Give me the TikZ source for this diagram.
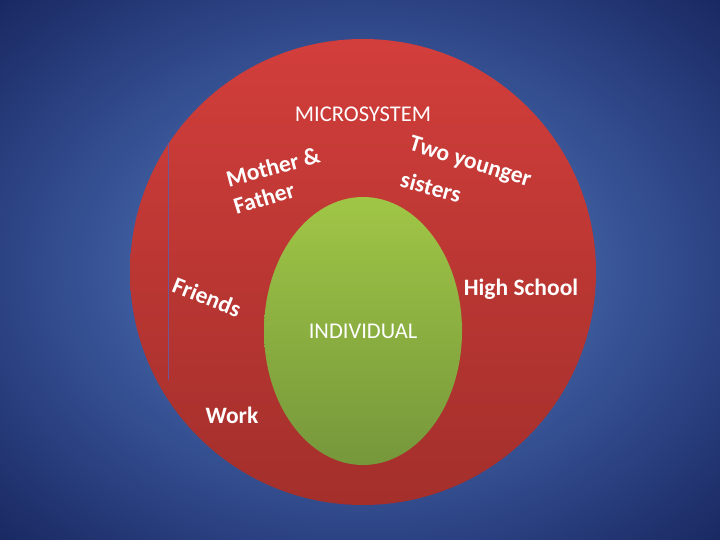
\documentclass[tikz,border=0pt]{standalone}
\usepackage{fontspec}
\setmainfont{Carlito}
\usetikzlibrary{shapes.geometric}

\definecolor{redtop}{RGB}{210,62,59}
\definecolor{redbot}{RGB}{163,47,43}
\definecolor{greentop}{RGB}{160,198,70}
\definecolor{greenbot}{RGB}{118,151,59}
\definecolor{bgin}{RGB}{74,108,172}
\definecolor{bgmid}{RGB}{60,90,156}
\definecolor{bgedge}{RGB}{42,64,128}
\definecolor{bgout}{RGB}{24,39,96}
\definecolor{divline}{RGB}{112,86,150}

\pgfdeclareradialshading{bgshade}{\pgfpoint{0bp}{0bp}}{%
  color(0bp)=(bgin); color(16bp)=(bgmid); color(26bp)=(bgedge); color(36bp)=(bgout); color(72bp)=(bgout)}

\begin{document}
\begin{tikzpicture}[x=1pt, y=-1pt,
    plain/.style={text=white, inner sep=0pt, font=\fontsize{22.5}{26}\selectfont},
    bold/.style={text=white, inner sep=0pt, font=\fontsize{23.5}{27}\selectfont\bfseries}]
    % background
    \useasboundingbox (0,0) rectangle (720,540);
    \shade[shading=bgshade] (0,0) rectangle (720,540);

    % microsystem circle and individual ellipse
    \node[circle, minimum size=466pt, inner sep=0pt, top color=redtop, bottom color=redbot] (micro) at (363,272) {};
    \node[ellipse, minimum width=198pt, minimum height=268pt, inner sep=0pt,
          top color=greentop, bottom color=greenbot, plain] (indiv) at (363,331) {INDIVIDUAL};

    % thin line on the left
    \coordinate (lt) at (168,143);
    \coordinate (lb) at (168,380);
    \draw[divline, line width=1pt] (lt) -- (lb);

    % labels
    \node[plain, anchor=base] (title) at (363,122) {MICROSYSTEM};
    \node[bold, rotate=15] (mother) at (273,167) {Mother \&};
    \node[bold, rotate=17] (father) at (264,198) {Father};
    \node[bold, rotate=-17] (two) at (470,163) {Two younger};
    \node[bold, rotate=-15] (sisters) at (431,187) {sisters};
    \node[bold, rotate=-22] (friends) at (207,297) {Friends};
    \node[bold, anchor=base] (school) at (521,295) {High School};
    \node[bold, anchor=base] (work) at (232,423) {Work};
\end{tikzpicture}
\end{document}
